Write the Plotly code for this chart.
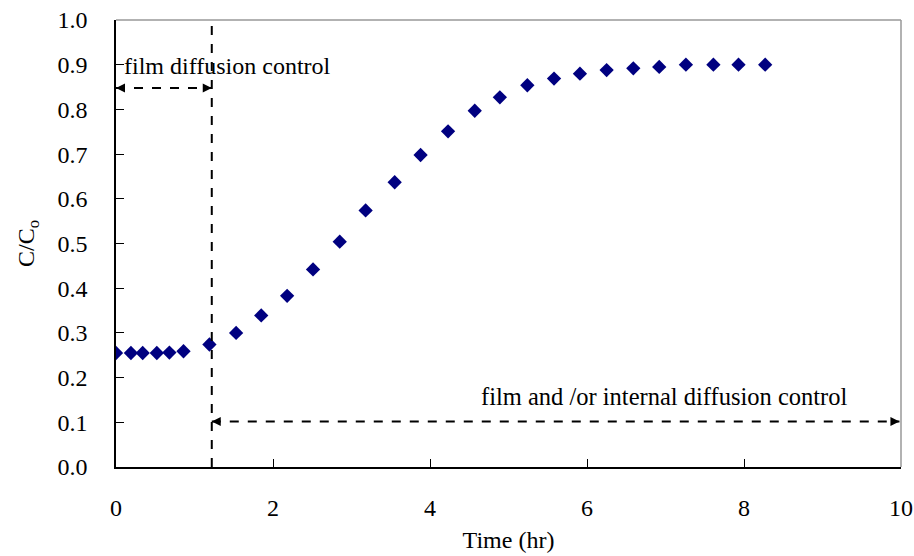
import plotly.graph_objects as go

time_hr = [0, 0.19, 0.34, 0.52, 0.68, 0.86, 1.19, 1.53, 1.85, 2.18, 2.51, 2.85, 3.18,
           3.55, 3.88, 4.23, 4.57, 4.89, 5.24, 5.58, 5.91, 6.25, 6.59, 6.92, 7.26,
           7.61, 7.93, 8.27]
c_ratio = [0.255, 0.255, 0.255, 0.255, 0.256, 0.259, 0.274, 0.300, 0.339, 0.383, 0.442,
           0.504, 0.574, 0.637, 0.698, 0.751, 0.797, 0.827, 0.854, 0.869, 0.880,
           0.888, 0.892, 0.895, 0.900, 0.900, 0.900, 0.900]

x_ticks = [0, 2, 4, 6, 8, 10]
y_ticks = [0.0, 0.1, 0.2, 0.3, 0.4, 0.5, 0.6, 0.7, 0.8, 0.9, 1.0]
y_tick_text = [f"{v:.1f}" for v in y_ticks]

boundary_x = 1.22
film_arrow = (0.0, boundary_x, 0.848)
internal_arrow = (boundary_x, 9.98, 0.102)

FONT = "Liberation Serif, Times New Roman, serif"
FS = 24

fig = go.Figure()
fig.add_trace(go.Scatter(
    x=time_hr, y=c_ratio, mode="markers",
    marker=dict(symbol="diamond", size=11, color="#000080"),
    showlegend=False, hoverinfo="x+y"))

shapes = [
    dict(type="line", xref="paper", yref="paper", x0=0, x1=1, y0=1, y1=1,
         line=dict(color="#999999", width=1.5)),
    dict(type="line", xref="paper", yref="paper", x0=1, x1=1, y0=0, y1=1,
         line=dict(color="#999999", width=1.5)),
    dict(type="line", xref="x", yref="y", x0=boundary_x, x1=boundary_x, y0=0, y1=1,
         line=dict(color="black", width=2, dash="dash")),
    dict(type="line", xref="x", yref="y", x0=film_arrow[0], x1=film_arrow[1],
         y0=film_arrow[2], y1=film_arrow[2],
         line=dict(color="black", width=2, dash="dash")),
    dict(type="line", xref="x", yref="y", x0=internal_arrow[0], x1=internal_arrow[1],
         y0=internal_arrow[2], y1=internal_arrow[2],
         line=dict(color="black", width=2, dash="dash")),
]

annotations = []
for (a, b, yy) in [film_arrow, internal_arrow]:
    for tip, tail in [(a, a + 0.05), (b, b - 0.05)]:
        annotations.append(dict(x=tip, y=yy, ax=tail, ay=yy, xref="x", yref="y",
                                axref="x", ayref="y", showarrow=True, arrowhead=2,
                                arrowsize=1.2, arrowwidth=1.5, arrowcolor="black",
                                standoff=0, startstandoff=0, text=""))

annotations.append(dict(x=0.07, y=0.898, xref="x", yref="y", text="film diffusion control",
                        showarrow=False, xanchor="left", yanchor="middle",
                        font=dict(family=FONT, size=FS, color="black")))
annotations.append(dict(x=4.63, y=0.157, xref="x", yref="y",
                        text="film and /or internal diffusion control",
                        showarrow=False, xanchor="left", yanchor="middle",
                        font=dict(family=FONT, size=FS + 0.5, color="black")))

fig.update_layout(
    width=914, height=556,
    margin=dict(l=116, r=13, t=20, b=89),
    paper_bgcolor="white", plot_bgcolor="white",
    font=dict(family=FONT, size=FS, color="black"),
    shapes=shapes, annotations=annotations,
    xaxis=dict(range=[0, 10], tickvals=x_ticks, ticktext=[str(v) for v in x_ticks],
               showgrid=False, zeroline=False, showline=True, linecolor="black",
               linewidth=1.5, ticks="inside", ticklen=8, tickwidth=1, tickcolor="black",
               ticklabelstandoff=18, tickfont=dict(size=FS), automargin=False,
               title=dict(text="Time (hr)", font=dict(family=FONT, size=FS), standoff=12)),
    yaxis=dict(range=[0, 1.0], tickvals=y_ticks, ticktext=y_tick_text,
               showgrid=False, zeroline=False, showline=True, linecolor="black",
               linewidth=1.5, ticks="inside", ticklen=8, tickwidth=1, tickcolor="black",
               ticklabelstandoff=22, tickfont=dict(size=FS), automargin=False,
               title=dict(text="C/C<sub>o</sub>", font=dict(family=FONT, size=FS), standoff=16)),
)

fig.write_html("out.html")
